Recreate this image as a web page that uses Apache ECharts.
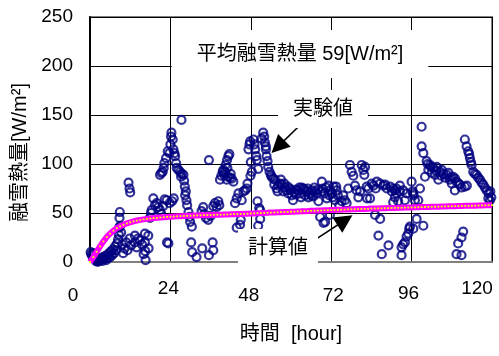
<!DOCTYPE html>
<html>
<head>
<meta charset="utf-8">
<script src="https://cdn.jsdelivr.net/npm/echarts/dist/echarts.min.js"></script>
<style>
  html, body { margin: 0; padding: 0; background: #fff; }
  #chart { width: 499px; height: 356px; }
</style>
</head>
<body>
<div id="chart"></div>
<script>
// x ticks (hour)
var xTicks = [0, 24, 48, 72, 96, 120];

// 実験値 : [hour, W/m2]
var measured = [
  [0.2,10],[0.4,8],[0.7,6],[1.0,9],[1.2,4],[1.5,3],[1.8,1],[2.0,2],[2.3,0],[2.6,1],
  [3.0,2],[3.3,4],[3.6,1],[3.9,5],[4.2,3],[4.5,6],[4.8,2],[5.1,7],[5.4,4],[5.7,9],
  [6.0,5],[6.3,11],[6.6,7],[6.9,13],[7.2,9],[7.5,16],[7.8,12],[8.1,19],[8.4,23],[8.6,28],
  [8.7,35],[8.8,45],[8.9,51],[9.0,37],[9.3,30],[9.6,18],[9.9,9],[10.3,14],[10.8,20],[11.2,12],
  [11.5,81],[11.8,75],[12.0,71],[11.9,24],[12.3,17],[13.4,27],[13.4,20],[13.9,15],[14.4,24],[14.9,22],
  [15.5,18],[16.0,8],[16.4,29],[16.4,20],[16.5,11],[16.6,2],[17.4,27],[17.5,14],
  [17.9,45],[18.2,50],[18.4,53],[18.9,65],[19.4,58],[19.9,60],[20.4,56],[20.9,53],[21.3,49],[21.8,57],
  [22.3,64],[22.9,63],[23.4,19],[23.0,20],[23.8,60],[24.5,62],[25.0,65],
  [20.9,89],[21.3,91],[21.7,92],[22.0,96],[22.2,101],[22.7,106],[23.2,113],[23.7,111],[24.0,120],[24.2,128],
  [24.3,132],[24.7,125],[24.9,115],[25.2,111],[25.4,108],[25.7,101],[25.9,96],[26.4,94],[26.9,92],[27.2,87],
  [27.4,90],[27.9,89],[28.1,83],[28.3,77],[28.6,72],[28.4,68],[28.8,63],[29.0,58],[29.4,51],[29.7,46],
  [29.9,41],[30.4,36],[27.3,145],
  [30.2,20],[30.5,10],[31.8,5],[33.5,14],[35.5,7],[36.6,20],[36.8,12],
  [33.3,52],[33.8,56],[34.1,49],[34.6,45],[35.3,43],[36.0,47],[36.8,57],[37.3,60],[37.8,56],[38.3,62],
  [38.6,58],[35.5,104],
  [38.8,84],[39.2,88],[39.6,92],[40.0,89],[40.3,92],[40.5,99],[40.9,104],[41.3,108],[41.6,110],[40.8,84],
  [41.1,87],[41.8,86],[42.3,85],[42.8,82],[42.0,90],[41.0,96],[39.8,94],
  [43.3,60],[43.8,65],[44.3,70],[44.8,38],[45.0,43],[43.8,35],[45.3,63],[45.8,72],[46.3,73],[46.8,75],[47.0,80],
  [47.3,115],[47.6,120],[47.8,123],[48.0,102],[48.3,92],[47.9,88],[48.8,125],[49.1,120],[49.3,115],[49.6,108],
  [49.8,104],[50.2,95],[50.0,62],[50.5,55],[50.8,53],[50.8,44],[50.2,37],[51.2,126],[51.7,132],[52.0,128],
  [52.2,122],[52.5,118],[52.5,115],[52.7,108],[53.0,103],[53.2,97],[53.6,92],[54.0,89],[54.2,87],[54.7,85],
  [55.2,84],[55.0,79],[55.7,75],[56.2,78],[56.7,80],[57.2,79],[57.7,72],[58.2,76],[58.7,73],[59.2,70],
  [59.7,75],[60.2,68],[60.6,63],[61.0,71],[61.6,74],[62.2,73],[62.7,70],[63.2,76],[63.7,75],[64.2,68],
  [64.7,72],[65.2,66],[65.7,70],[66.2,73],[66.7,67],[67.2,72],[67.7,70],[68.2,62],[68.7,46],[69.2,82],
  [69.5,75],[69.7,40],[70.0,70],[70.2,41],[70.7,65],[71.2,78],[71.7,73],[72.2,70],[72.7,77],[73.1,63],
  [73.6,73],[74.0,68],[74.4,58],[75.1,62],[75.6,68],[76.1,63],[76.6,60],[71.6,48],
  [56.0,72],[57.0,84],[58.0,80],[59.0,77],[60.0,73],[61.5,69],[62.5,76],[63.0,66],[64.0,74],[65.0,75],
  [66.0,68],[67.0,76],[68.0,74],[69.0,72],[70.5,76],[71.5,68],[72.5,66],[73.5,77],
  [77.1,75],[77.6,99],[78.1,92],[78.6,88],[79.1,78],[79.6,73],[80.1,66],[80.6,72],[81.1,99],[81.6,94],
  [81.9,89],[82.1,97],[82.6,77],[82.7,65],[83.1,75],[83.6,65],[84.1,80],[84.6,78],[85.1,48],[85.3,75],[85.6,82],
  [86.1,27],[86.6,44],[86.6,80],[87.1,8],[87.6,78],[88.1,79],[88.6,75],[89.1,17],[89.6,77],[90.1,72],
  [90.6,75],[91.0,73],[91.0,66],[90.5,61],[91.5,70],[92.0,62],[92.5,72],[91.5,75],[92.5,78],[93.5,73],
  [94.5,70],[94.0,63],[93.0,15],[93.0,7],[93.5,18],[94.0,20],[94.5,26],[95.0,29],[95.3,34],[95.5,36],
  [96.0,82],[96.3,72],[96.5,70],[96.6,68],[97.0,63],[97.5,44],[99.5,37],[96.5,34],[98.5,75],[98.0,63],
  [99.0,138],[99.0,118],[99.5,111],[100.5,103],[101.5,99],[101.0,94],[100.0,87],[102.5,96],[103.5,97],[104.5,92],
  [105.5,90],[106.5,89],[107.4,84],[108.4,87],[109.4,82],[108.9,73],[110.4,79],[111.9,77],[103.0,89],[104.0,84],
  [100.8,100],[101.8,97],[102.0,91],[103.3,93],[104.8,88],[105.0,94],[106.0,86],[107.0,91],[107.8,86],[108.0,80],
  [109.0,85],[110.0,80],[110.9,76],[112.5,78],
  [111.9,125],[112.4,118],[112.9,113],[113.4,106],[113.9,99],[114.4,92],[115.4,89],[116.4,84],[117.4,79],[118.4,73],
  [118.9,65],[119.4,63],[113.2,110],[113.7,102],[114.9,90],[115.9,86],[116.9,81],[117.9,76],[119.0,70],[119.8,66],
  [119.5,72],
  [111.4,31],[110.9,25],[109.9,19],[109.4,8],[110.9,7]
];

// 計算値 : hourly, index = hour
var calcValues = [
  0, 5, 10.5, 16, 21, 25.5, 29, 32, 34.5, 36.5,
  38, 39.5, 40.5, 41.5, 42.3, 43, 43.5, 44, 44.4, 44.8,
  45.1, 45.4, 45.7, 46, 46.2, 46.4, 46.6, 46.8, 47, 47.1,
  47.3, 47.4, 47.5, 47.7, 47.8, 47.9, 48, 48.1, 48.2, 48.3,
  48.4, 48.5, 48.7, 48.8, 48.9, 49, 49.2, 49.3, 49.5, 49.6,
  49.8, 49.9, 50.1, 50.2, 50.4, 50.5, 50.7, 50.8, 51, 51.1,
  51.3, 51.4, 51.6, 51.7, 51.9, 52, 52.2, 52.3, 52.5, 52.6,
  52.8, 52.9, 53, 53.1, 53.3, 53.4, 53.5, 53.6, 53.8, 53.9,
  54, 54.1, 54.2, 54.3, 54.5, 54.6, 54.7, 54.8, 54.9, 55,
  55.1, 55.2, 55.3, 55.4, 55.5, 55.6, 55.7, 55.8, 55.9, 56,
  56.1, 56.2, 56.3, 56.4, 56.5, 56.6, 56.7, 56.8, 56.9, 57,
  57.1, 57.2, 57.3, 57.3, 57.4, 57.5, 57.6, 57.7, 57.8, 57.9,
  58
];

// arrows: [from, to] in [hour, value]
var arrowMeasured = [[66.6, 152.6], [56.1, 117.7]];
var arrowCalc = [[67.8, 24.2], [76.1, 42.6]];

var latin = '"Liberation Sans", Arial, sans-serif';
var jp = '"Liberation Sans", "Noto Sans CJK JP", sans-serif';

var calcData = calcValues.map(function (v, i) { return [i, v]; });

// excel put the x labels a bit off the ticks
var xLabelRich = {
  t0: { padding: [7, 34, 0, 0] },
  t24: { padding: [0, 4, 0, 0] },
  t48: { padding: [7, 4, 0, 0] },
  t72: { padding: [7, 0, 0, 4] },
  t96: { padding: [5, 6, 0, 0] },
  t120: { padding: [0, 30, 0, 0] }
};
Object.keys(xLabelRich).forEach(function (k) {
  xLabelRich[k].fontSize = 19;
  xLabelRich[k].fontFamily = latin;
  xLabelRich[k].color = '#000';
});

var myChart = echarts.init(document.getElementById('chart'), null, { renderer: 'canvas' });
myChart.setOption({
  backgroundColor: '#fff',
  animation: false,
  grid: {
    left: 90,
    right: 7,
    top: 17,
    bottom: 94,
    show: true,
    borderColor: '#808080',
    borderWidth: 2
  },
  xAxis: {
    type: 'value',
    min: 0,
    max: 120,
    interval: 24,
    name: '時間  [hour]',
    nameLocation: 'middle',
    nameGap: 62,
    nameTextStyle: { fontSize: 20, fontFamily: jp, color: '#000' },
    axisLine: { lineStyle: { color: '#808080', width: 2 } },
    axisTick: { show: false },
    axisLabel: {
      margin: 17,
      fontSize: 19,
      fontFamily: latin,
      color: '#000',
      formatter: function (v) { return '{t' + v + '|' + v + '}'; },
      rich: xLabelRich
    },
    splitLine: { show: true, lineStyle: { color: '#000', width: 1 } }
  },
  yAxis: {
    type: 'value',
    min: 0,
    max: 250,
    interval: 50,
    name: '融雪熱量[W/m²]',
    nameLocation: 'middle',
    nameGap: 51,
    nameTextStyle: { fontSize: 20, fontFamily: jp, color: '#000', padding: [0, 26, 0, 0] },
    axisLine: { show: true, lineStyle: { color: '#000', width: 2 } },
    axisTick: { show: false },
    axisLabel: { margin: 17, fontSize: 19, fontFamily: latin, color: '#000' },
    splitLine: { show: true, lineStyle: { color: '#000', width: 1 } }
  },
  series: [{
    name: '実験値',
    type: 'scatter',
    data: measured,
    symbol: 'circle',
    symbolSize: 8,
    z: 2,
    itemStyle: {
      color: 'rgba(255,255,255,0)',
      borderColor: '#000080',
      borderWidth: 2.2
    },
    markLine: {
      silent: true,
      symbol: ['none', 'triangle'],
      symbolSize: 18,
      label: { show: false },
      lineStyle: { color: '#000', width: 1.5, type: 'solid' },
      itemStyle: { color: '#000' },
      data: [
        [{ coord: arrowMeasured[0] }, { coord: arrowMeasured[1] }],
        [{ coord: arrowCalc[0] }, { coord: arrowCalc[1] }]
      ]
    }
  }, {
    name: '計算値',
    type: 'line',
    data: calcData,
    z: 3,
    showAllSymbol: true,
    symbol: 'rect',
    symbolSize: 1.8,
    itemStyle: { color: '#ffff00', borderWidth: 0 },
    lineStyle: { color: '#ff00ff', width: 6 }
  }],
  graphic: [{
    type: 'text',
    x: 300,
    y: 54,
    z: 100,
    style: {
      text: '平均融雪熱量 59[W/m²]',
      font: '20px ' + jp,
      fill: '#000',
      align: 'center',
      verticalAlign: 'middle',
      backgroundColor: '#fff',
      padding: [17, 25, 11, 25]
    }
  }, {
    type: 'text',
    x: 323,
    y: 109,
    z: 100,
    style: {
      text: '実験値',
      font: '20px ' + jp,
      fill: '#000',
      align: 'center',
      verticalAlign: 'middle',
      backgroundColor: '#fff',
      padding: [7, 15, 11, 15]
    }
  }, {
    type: 'text',
    x: 278,
    y: 248,
    z: 100,
    style: {
      text: '計算値',
      font: '20px ' + jp,
      fill: '#000',
      align: 'center',
      verticalAlign: 'middle',
      backgroundColor: '#fff',
      padding: [10, 10, 8, 10]
    }
  }]
});
</script>
</body>
</html>
